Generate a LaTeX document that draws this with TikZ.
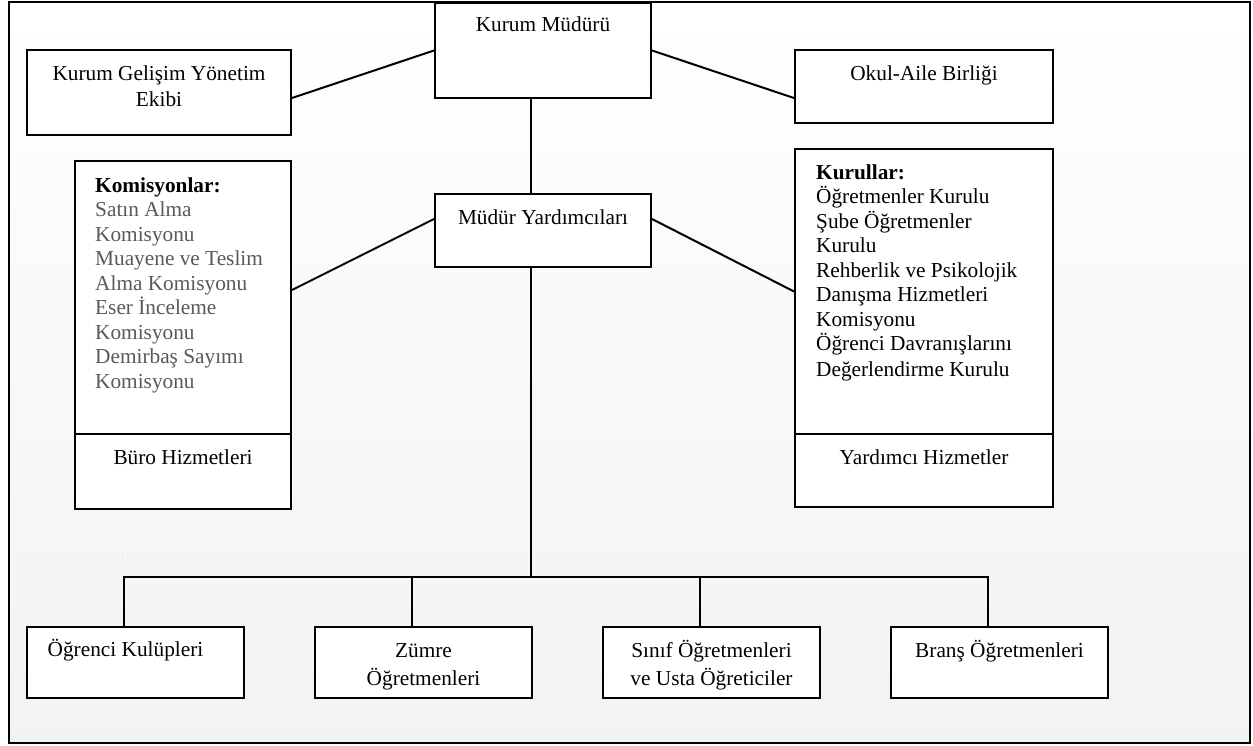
\documentclass[tikz,border=0pt]{standalone}
\usepackage{fontspec}
\setmainfont{Liberation Serif}
\definecolor{komgray}{HTML}{595959}

\begin{document}
\begin{tikzpicture}[x=1pt,y=-1pt]
	\tikzstyle{box}=[draw, line width=2pt, fill=white, anchor=north west, inner sep=0pt]
	\tikzstyle{txt}=[font=\fontsize{21.3}{24.5}\selectfont, align=center, inner sep=0pt, anchor=base]
	\tikzstyle{link}=[line width=2pt]
	\useasboundingbox (0,0) rectangle (1253,746);
	\fill[white] (0,0) rectangle (1253,746);
	\shadedraw[top color=white, bottom color=black!5, line width=2.8pt] (9,2) rectangle (1250,743);

	% boxes
	\node[box, minimum width=216, minimum height=95] (km) at (434,2) {};
	\node[box, minimum width=264, minimum height=85] (kgye) at (26,49) {};
	\node[box, minimum width=258, minimum height=73] (okul) at (794,49) {};
	\node[box, minimum width=216, minimum height=73] (my) at (434,193) {};
	\node[box, minimum width=216, minimum height=273] (kom) at (74,160) {};
	\node[box, minimum width=216, minimum height=75] (buro) at (74,433) {};
	\node[box, minimum width=258, minimum height=285] (kur) at (794,148) {};
	\node[box, minimum width=258, minimum height=73] (yrd) at (794,433) {};
	\node[box, minimum width=217, minimum height=71] (ok) at (26,626) {};
	\node[box, minimum width=217, minimum height=71] (zumre) at (314,626) {};
	\node[box, minimum width=217, minimum height=71] (sinif) at (602,626) {};
	\node[box, minimum width=217, minimum height=71] (brans) at (890,626) {};

	% connectors
	\coordinate (hub) at (531,577);
	\draw[link] ([yshift=-5.5pt]kgye.east) -- (km.west);
	\draw[link] (km.east) -- ([yshift=-11.5pt]okul.west);
	\draw[link] ([yshift=7.5pt]kom.east) -- ([yshift=11.5pt]my.west);
	\draw[link] ([yshift=11.5pt]my.east) -- (kur.west);
	\draw[link] (km.south -| hub) -- (my.north -| hub);
	\draw[link] (my.south -| hub) -- (hub);
	\foreach \b in {ok,zumre,sinif,brans}
		\draw[link] ([xshift=-12pt]\b.north) |- (hub);

	% texts (base = last line)
	\node[txt] (kmt) at ([yshift=-30pt]km.north) {Kurum Müdürü};
	\node[txt] (kgyet) at ([yshift=-58pt]kgye.north) {Kurum Gelişim Yönetim\\[1.5pt]Ekibi};
	\node[txt] (okult) at ([yshift=-32pt]okul.north) {Okul-Aile Birliği};
	\node[txt] (myt) at ([yshift=-32pt]my.north) {Müdür Yardımcıları};
	\node[txt, anchor=base west, align=left, text=komgray] (komt) at ([xshift=21pt,yshift=-228pt]kom.north west)
		{\textcolor{black}{\textbf{Komisyonlar:}}\\Satın Alma\\Komisyonu\\Muayene ve Teslim\\Alma Komisyonu\\Eser İnceleme\\Komisyonu\\Demirbaş Sayımı\\Komisyonu};
	\node[txt, anchor=base west, align=left] (kurt) at ([xshift=22pt,yshift=-228.5pt]kur.north west)
		{\textbf{Kurullar:}\\Öğretmenler Kurulu\\Şube Öğretmenler\\Kurulu\\Rehberlik ve Psikolojik\\Danışma Hizmetleri\\Komisyonu\\Öğrenci Davranışlarını\\[1.5pt]Değerlendirme Kurulu};
	\node[txt] (burot) at ([yshift=-31pt]buro.north) {Büro Hizmetleri};
	\node[txt] (yrdt) at ([yshift=-31pt]yrd.north) {Yardımcı Hizmetler};
	\node[txt] (okt) at ([xshift=-10pt,yshift=-30pt]ok.north) {Öğrenci Kulüpleri};
	\node[txt] (zumret) at ([yshift=-59pt]zumre.north) {Zümre\\[3.5pt]Öğretmenleri};
	\node[txt] (sinift) at ([yshift=-59pt]sinif.north) {Sınıf Öğretmenleri\\[3.5pt]ve Usta Öğreticiler};
	\node[txt] (branst) at ([yshift=-31pt]brans.north) {Branş Öğretmenleri};
	\node[font=\fontsize{5}{5}\selectfont, inner sep=0pt, anchor=base] (dot) at (123,554) {.};
\end{tikzpicture}
\end{document}
